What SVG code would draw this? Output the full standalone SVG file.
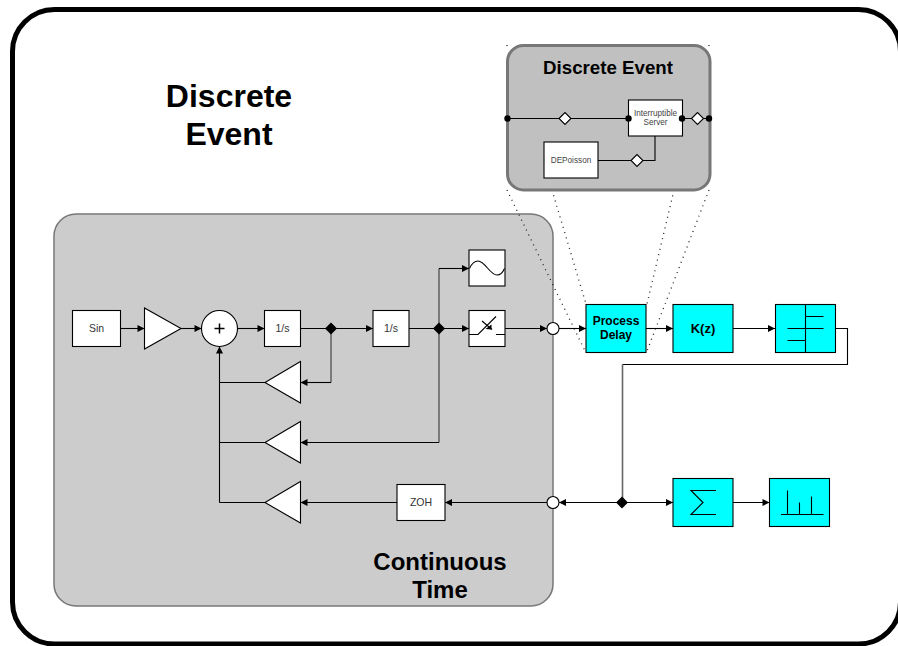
<svg xmlns="http://www.w3.org/2000/svg" width="898" height="646" viewBox="0 0 898 646">
<style>
text{font-family:"Liberation Sans",Arial,sans-serif;text-anchor:middle;fill:#000}
.b{fill:#fff;stroke:#000;stroke-width:1.1}
.c{fill:#00ffff;stroke:#000;stroke-width:1.1}
.w{fill:none;stroke:#000;stroke-width:1.1}
.g{fill:none;stroke:#666;stroke-width:1.6}
.d{fill:none;stroke:#222;stroke-width:1.3;stroke-dasharray:1 4.500}
.t{font-size:10.500px;fill:#333}
.s{font-size:8.200px;fill:#444}
.h{font-weight:bold}
</style>
<defs>
<marker id="a" markerUnits="userSpaceOnUse" markerWidth="9" markerHeight="8" refX="8" refY="4" orient="auto"><path d="M1 0.500L8 4L1 7.500Z" fill="#000"/></marker>
<path id="dk" d="M-6 0L0-6L6 0L0 6Z" fill="#000"/>
<path id="dw" d="M-6 0L0-6L6 0L0 6Z" fill="#fff" stroke="#000" stroke-width="1.100"/>
</defs>
<rect id="frame" x="12.500" y="9.500" width="888" height="634.500" rx="42" fill="#fff" stroke="#000" stroke-width="5"/>
<g id="region-continuous"><rect x="54" y="214" width="499" height="392" rx="22" fill="#ccc" stroke="#777" stroke-width="1.500"/></g>
<g id="dots">
<path class="d" d="M507 190L585 351M552 190L586 304M674 190L647 304M709 190L647 351"/>
<path class="d" d="M507 45V46M709 45V46"/>
</g>
<g id="label-de"><text class="h" x="229" y="107" font-size="32">Discrete</text><text class="h" x="229" y="145" font-size="32">Event</text></g>
<g id="label-ct"><text class="h" x="440" y="569.500" font-size="24">Continuous</text><text class="h" x="440" y="597.500" font-size="24">Time</text></g>
<g id="connectors">
<path class="w" d="M120.500 328.500H144.500" marker-end="url(#a)"/>
<path class="w" d="M181 328.500H201.500" marker-end="url(#a)"/>
<path class="w" d="M237.500 328.500H264.500" marker-end="url(#a)"/>
<path class="w" d="M300.500 328.500H373" marker-end="url(#a)"/>
<path class="w" d="M409 328.500H469" marker-end="url(#a)"/>
<path class="w" d="M505 328.500H547" marker-end="url(#a)"/>
<path class="w" d="M559 328.500H586" marker-end="url(#a)"/>
<path class="w" d="M646 328.500H673" marker-end="url(#a)"/>
<path class="w" d="M733 328.500H775" marker-end="url(#a)"/>
<path class="w" d="M835.500 328.500H847.500V364.500H622.500"/>
<path class="g" d="M622.500 364.500V502.500"/>
<path class="g" d="M331 328.500V382.500"/><path class="w" d="M331 382.500H300.500" marker-end="url(#a)"/>
<path class="g" d="M439 268.500V442.500"/><path class="w" d="M439 442.500H300.500" marker-end="url(#a)"/>
<path class="w" d="M439 268.500H469" marker-end="url(#a)"/>
<path class="w" d="M265 382.500H219.500M265 442.500H219.500M265 502.500H219.500"/>
<path class="w" d="M219.500 502.500V346.500" marker-end="url(#a)" stroke-width="1.500"/>
<path class="w" d="M622 502.500H559" marker-end="url(#a)"/>
<path class="w" d="M622 502.500H673" marker-end="url(#a)"/>
<path class="w" d="M733 502.500H769.500" marker-end="url(#a)"/>
<path class="w" d="M547 502.500H445" marker-end="url(#a)"/>
<path class="w" d="M397 502.500H300.500" marker-end="url(#a)"/>
<use href="#dk" x="331" y="328.500"/><use href="#dk" x="439" y="328.500"/><use href="#dk" x="622" y="502.500"/>
</g>
<g id="sin"><rect class="b" x="72.500" y="310.500" width="48" height="36"/><text class="t" x="96.500" y="332">Sin</text></g>
<g id="gain1"><path class="b" d="M144.500 308V349L181 328.500Z"/></g>
<g id="sum"><circle class="b" cx="219.500" cy="328.500" r="18"/><path d="M214.500 328.500H224.500M219.500 323.500V333.500" stroke="#000" stroke-width="1.500"/></g>
<g id="int1"><rect class="b" x="264.500" y="310.500" width="36" height="36"/><text class="t" x="282.500" y="332">1/s</text></g>
<g id="int2"><rect class="b" x="373" y="310.500" width="36" height="36"/><text class="t" x="391" y="332">1/s</text></g>
<g id="scope"><rect class="b" x="469" y="250" width="36" height="36"/><path class="w" d="M469.500 268.500C472 263 475 261 478 261C485 261 490 275 497 275C501 275 503 272 504.500 268.500"/></g>
<g id="switch"><rect class="b" x="469" y="310.500" width="36" height="36"/><path class="w" d="M469 334.500H478L496 316.500M496 334.500H505M482 321L492 329.500"/><path d="M485.500 329L491.500 324.500L491.500 329.500Z" fill="#000"/></g>
<g id="gain2"><path class="b" d="M265 382.500L300.500 361.500V403Z"/></g>
<g id="gain3"><path class="b" d="M265 442.500L300.500 421.500V463Z"/></g>
<g id="gain4"><path class="b" d="M265 502.500L300.500 481.500V523Z"/></g>
<g id="zoh"><rect class="b" x="397" y="484.500" width="48" height="36"/><text class="t" x="421" y="506">ZOH</text></g>
<g id="port1"><circle class="b" cx="553" cy="328.500" r="6"/></g>
<g id="port2"><circle class="b" cx="553" cy="502.500" r="6"/></g>
<g id="process-delay"><rect class="c" x="586" y="304.500" width="60" height="48"/><text class="h" x="616" y="325" font-size="12">Process</text><text class="h" x="616" y="339" font-size="12">Delay</text></g>
<g id="kz"><rect class="c" x="673" y="304.500" width="60" height="48"/><text class="h" x="703" y="333" font-size="13">K(z)</text></g>
<g id="quant"><rect class="c" x="775.500" y="304.500" width="60" height="48"/><path class="w" d="M805.500 304.500V352.500M805.500 316.500H823.500M787.500 328.500H823.500M787.500 340.500H805.500"/></g>
<g id="sigma"><rect class="c" x="673" y="478.500" width="60" height="48"/><path class="w" d="M716 490.500H691L703 502.500L691 514.500H716" stroke-width="1.500"/></g>
<g id="hist"><rect class="c" x="769.500" y="478.500" width="60" height="48"/><path class="w" d="M781 514.500H823.500M787.500 490.500V514.500M799.500 502.500V514.500M811.500 496.500V514.500"/></g>
<g id="inset">
<rect x="507.500" y="45.500" width="202.500" height="144.500" rx="16" fill="#c0c0c0" stroke="#777" stroke-width="3"/>
<text class="h" x="608" y="73.500" font-size="18.700">Discrete Event</text>
<path class="w" d="M507.500 118.500H628.500M682 118.500H709M598 160.500H655V136" stroke-width="1.300"/>
<rect class="b" x="628.500" y="100" width="54" height="36"/>
<text class="s" x="655.500" y="116">Interruptible</text><text class="s" x="655.500" y="125">Server</text>
<rect class="b" x="544" y="142" width="54" height="36"/>
<text class="s" x="571" y="163">DEPoisson</text>
<use href="#dw" x="565" y="118.500"/><use href="#dw" x="697.500" y="118.500"/><use href="#dw" x="637" y="160.500"/>
<circle cx="507.500" cy="118.500" r="3.200"/><circle cx="628.500" cy="118.500" r="3.200"/><circle cx="682" cy="118.500" r="3.200"/><circle cx="709" cy="118.500" r="3.200"/>
</g>
</svg>
